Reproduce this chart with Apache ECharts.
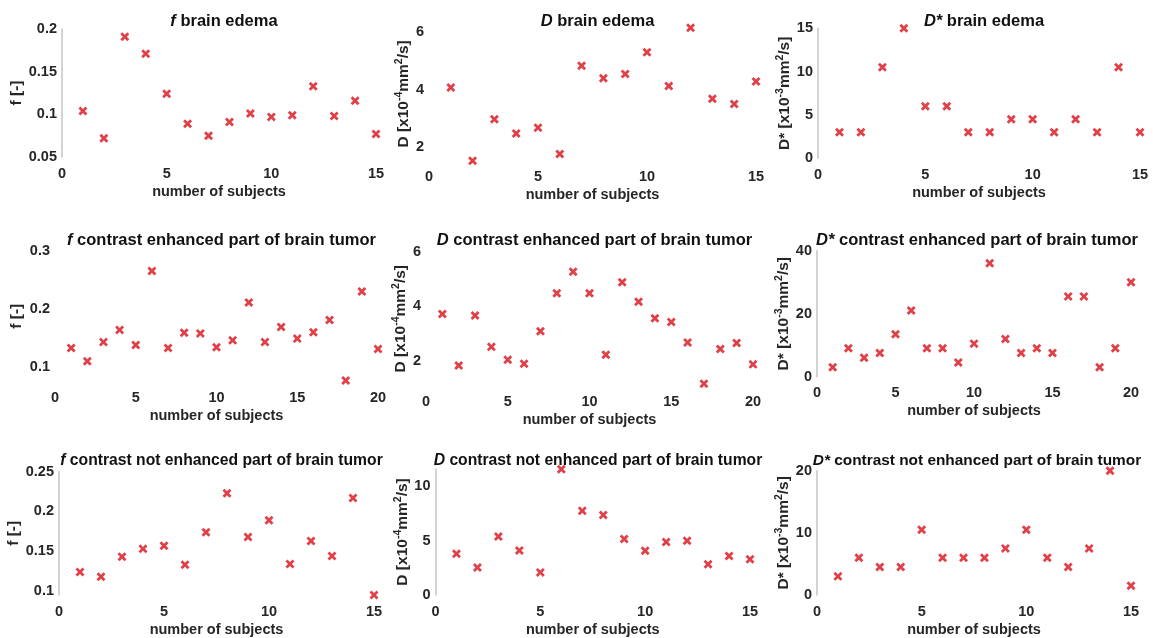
<!DOCTYPE html>
<html>
<head>
<meta charset="utf-8">
<script src="https://cdn.jsdelivr.net/npm/echarts@6/dist/echarts.min.js"></script>
<style>html,body{margin:0;padding:0;background:#fff;}#c{width:1153px;height:638px;}</style>
</head>
<body>
<div id="c"></div>
<script>
// ---- data ----
const subjects15 = [1,2,3,4,5,6,7,8,9,10,11,12,13,14,15];
const subjects20 = [1,2,3,4,5,6,7,8,9,10,11,12,13,14,15,16,17,18,19,20];

const fEdema  = [0.104,0.072,0.191,0.171,0.124,0.089,0.075,0.091,0.101,0.097,0.099,0.133,0.098,0.116,0.077];
const dEdema  = [4.07,1.54,2.97,2.48,2.68,1.77,4.82,4.39,4.54,5.29,4.12,6.14,3.68,3.50,4.28];
const dsEdema = [3,3,10.5,15,6,6,3,3,4.5,4.5,3,4.5,3,10.5,3];

const fCE  = [0.133,0.110,0.143,0.164,0.138,0.265,0.133,0.159,0.158,0.134,0.146,0.211,0.143,0.169,0.149,0.160,0.181,0.077,0.230,0.131];
const dCE  = [3.72,1.84,3.67,2.52,2.05,1.90,3.09,4.48,5.27,4.48,2.23,4.88,4.17,3.57,3.43,2.68,1.17,2.44,2.66,1.88];
const dsCE = [3,9,6,7.5,13.5,21,9,9,4.5,10.5,36,12,7.5,9,7.5,25.5,25.5,3,9,30];

const fNE  = [0.124,0.118,0.143,0.153,0.157,0.133,0.174,0.223,0.168,0.189,0.134,0.163,0.144,0.217,0.095];
const dNE  = [3.80,2.53,5.39,4.10,2.08,11.57,7.74,7.35,5.15,4.07,4.88,5.00,2.83,3.58,3.28];
const dsNE = [3,6,4.5,4.5,10.5,6,6,6,7.5,10.5,6,4.5,7.5,20,1.5];

const xTicks15 = [0,5,10,15];
const xTicks20 = [0,5,10,15,20];
const yTicksF1 = [0.05,0.1,0.15,0.2];
const yTicksD1 = [2,4,6];
const yTicksS1 = [0,5,10,15];
const yTicksF2 = [0.1,0.2,0.3];
const yTicksD2 = [2,4,6];
const yTicksS2 = [0,20,40];
const yTicksF3 = [0.1,0.15,0.2,0.25];
const yTicksD3 = [0,5,10];
const yTicksS3 = [0,10,20];

const titles = ['{i|f} brain edema','{i|D} brain edema','{i|D*} brain edema',
  '{i|f} contrast enhanced part of brain tumor','{i|D} contrast enhanced part of brain tumor','{i|D*} contrast enhanced part of brain tumor',
  '{i|f} contrast not enhanced part of brain tumor','{i|D} contrast not enhanced part of brain tumor','{i|D*} contrast not enhanced part of brain tumor'];
const yNames = ['{m|f [-]}','{m|D [x10}{s|-4}{m|mm}{s|2}{m|/s]}','{m|D* [x10}{s|-3}{m|mm}{s|2}{m|/s]}'];
const xName = 'number of subjects';

// ---- layout ----
const panels = [
  {x:subjects15,y:fEdema, xt:xTicks15,xmax:15,yt:yTicksF1,ymin:0.05,ymax:0.2, g:[62,29,314,128],   yn:0,gap:36,line:true},
  {x:subjects15,y:dEdema, xt:xTicks15,xmax:15,yt:yTicksD1,ymin:1.55,ymax:6.15,g:[429,27.4,327,133],yn:1,gap:14,line:false},
  {x:subjects15,y:dsEdema,xt:xTicks15,xmax:15,yt:yTicksS1,ymin:0,ymax:15,     g:[818,28.3,322,130],yn:2,gap:21,line:true},
  {x:subjects20,y:fCE,    xt:xTicks20,xmax:20,yt:yTicksF2,ymin:0.075,ymax:0.3,g:[55,250.7,323,131],yn:0,gap:30,line:false},
  {x:subjects20,y:dCE,    xt:xTicks20,xmax:20,yt:yTicksD2,ymin:1.1,ymax:6,    g:[426,251.7,327,134],yn:1,gap:13,line:false},
  {x:subjects20,y:dsCE,   xt:xTicks20,xmax:20,yt:yTicksS2,ymin:0,ymax:40,     g:[817,250.7,314,126],yn:2,gap:20,line:true},
  {x:subjects15,y:fNE,    xt:xTicks15,xmax:15,yt:yTicksF3,ymin:0.095,ymax:0.25,g:[59,471.7,315,124.6],yn:0,gap:37,line:true},
  {x:subjects15,y:dNE,    xt:xTicks15,xmax:15,yt:yTicksD3,ymin:0,ymax:11.6,   g:[435.5,468.9,314.5,128.4],yn:1,gap:21,line:true},
  {x:subjects15,y:dsNE,   xt:xTicks15,xmax:15,yt:yTicksS3,ymin:0,ymax:20,     g:[817,470.7,314,126],yn:2,gap:21,line:true}
];
const titleTops = [8,8,8,227,227,227,448,448,448];
const titleSizes = [16.5,16.5,16.5,16.5,16.5,16.5,15.7,15.7,15.4];
const titleCenters = [219,592.5,979,216.5,589.5,972,216.5,593,972];

const txt = '#262626';
const red = '#d8111b';
const xMark = 'path://M0,2.2L2.2,0L5,2.8L7.8,0L10,2.2L7.2,5L10,7.8L7.8,10L5,7.2L2.2,10L0,7.8L2.8,5Z';
const FF = '"Liberation Sans", Arial, sans-serif';

const option = {
  animation:false,
  backgroundColor:'#fff',
  textStyle:{fontFamily:FF},
  title:[], grid:[], xAxis:[], yAxis:[], series:[]
};

panels.forEach((p,i)=>{
  const ts = titleSizes[i];
  option.grid.push({left:p.g[0],top:p.g[1],width:p.g[2],height:p.g[3],containLabel:false});
  option.title.push({
    text:titles[i], left:titleCenters[i], top:titleTops[i], textAlign:'center',
    textStyle:{fontFamily:FF,fontSize:ts,fontWeight:'bold',color:'#111',
      rich:{i:{fontFamily:FF,fontSize:ts,fontWeight:'bold',fontStyle:'italic',color:'#111'}}}
  });
  option.xAxis.push({
    gridIndex:i, type:'value', min:0, max:p.xmax,
    name:xName, nameLocation:'middle', nameGap:27,
    nameTextStyle:{fontFamily:FF,fontSize:14.5,fontWeight:'bold',color:txt},
    axisLine:{show:false}, axisTick:{show:false}, splitLine:{show:false},
    axisLabel:{customValues:p.xt, margin:9, fontFamily:FF,fontSize:14.5,fontWeight:'bold',color:txt}
  });
  option.yAxis.push({
    gridIndex:i, type:'value', min:p.ymin, max:p.ymax,
    name:yNames[p.yn], nameLocation:'middle', nameGap:p.gap, nameRotate:90,
    nameTextStyle:{fontFamily:FF,fontSize:15.5,fontWeight:'bold',color:txt,
      rich:{m:{fontFamily:FF,fontSize:15.5,fontWeight:'bold',color:txt,lineHeight:18,verticalAlign:'bottom'},
            s:{fontFamily:FF,fontSize:10.5,fontWeight:'bold',color:txt,lineHeight:18,verticalAlign:'top'}}},
    axisLine:{show:p.line,lineStyle:{color:'#c4c4c4',width:1.5}}, axisTick:{show:false}, splitLine:{show:false},
    axisLabel:{customValues:p.yt, margin:5, fontFamily:FF,fontSize:14.5,fontWeight:'bold',color:txt}
  });
  option.series.push({
    type:'scatter', xAxisIndex:i, yAxisIndex:i, clip:false,
    symbol:xMark, symbolSize:9,
    itemStyle:{color:red},
    data:p.x.map((v,k)=>[v,p.y[k]])
  });
});

const chart = echarts.init(document.getElementById('c'),null,{renderer:'canvas'});
chart.setOption(option);
</script>
</body>
</html>
